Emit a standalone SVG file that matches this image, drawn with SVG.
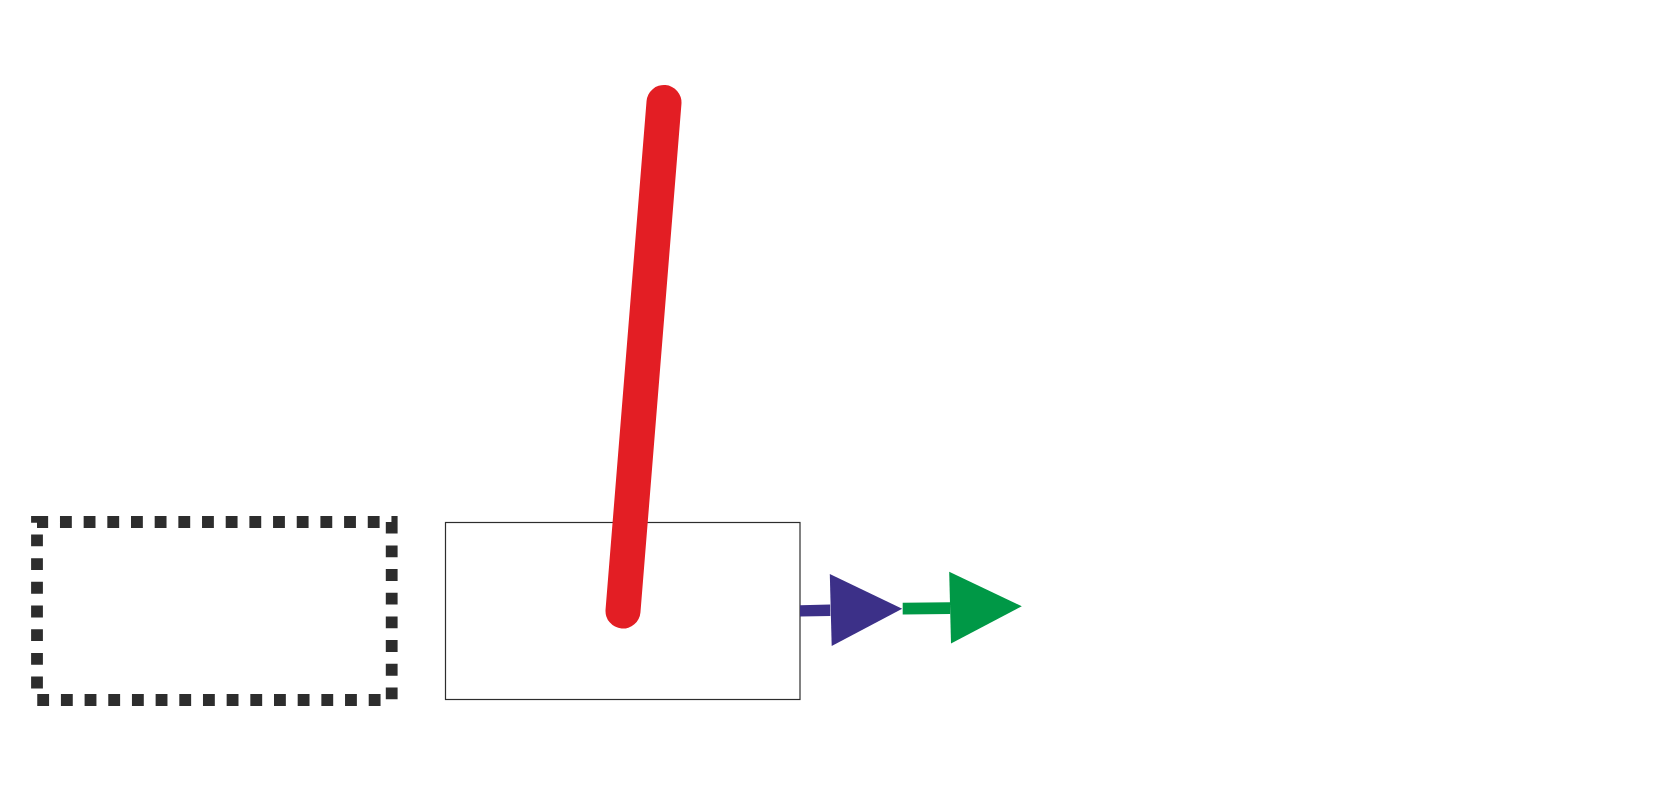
<svg xmlns="http://www.w3.org/2000/svg" width="1657" height="803" viewBox="0 0 1657 803">
  <style>
    .dashed { fill: none; stroke: #2d2d2d; stroke-width: 11.8; stroke-dasharray: 11.84 11.836; stroke-dashoffset: 0.7; stroke-linejoin: miter; }
    .box { fill: #ffffff; stroke: #2d2d2d; stroke-width: 1.2; }
    .red { stroke: #e31e24; stroke-width: 35; stroke-linecap: round; fill: none; }
    .blue { fill: #3c3088; }
    .green { fill: #009846; }
  </style>
  <rect x="0" y="0" width="1657" height="803" fill="#ffffff"/>
  <g id="node-dashed">
    <path class="dashed" d="M37,522 H391.7 V700 H37 Z"/>
  </g>
  <g id="node-box">
    <rect class="box" x="445.5" y="522.5" width="354.5" height="177"/>
  </g>
  <g id="connectors">
    <line class="red" x1="664" y1="102.5" x2="623" y2="611"/>
    <g id="arrow-blue">
      <polygon class="blue" points="800,605.2 830.2,604.6 830.4,616 800,616.6"/>
      <polygon class="blue" points="829.8,573.9 831.7,645.9 902.2,608.7"/>
    </g>
    <g id="arrow-green">
      <polygon class="green" points="902.7,602.8 950,602.2 950.2,614 902.7,614.6"/>
      <polygon class="green" points="949.2,571.8 951,643.5 1021.8,606.3"/>
    </g>
  </g>
</svg>
